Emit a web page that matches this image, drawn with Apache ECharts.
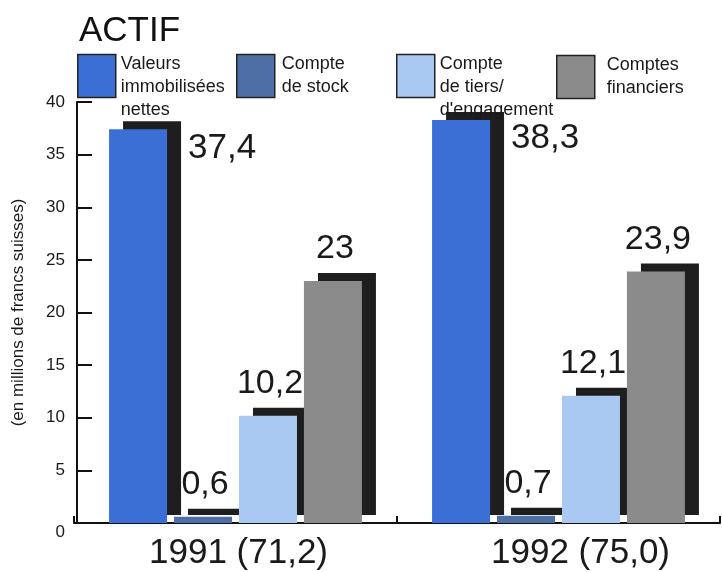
<!DOCTYPE html>
<html>
<head>
<meta charset="utf-8">
<title>ACTIF</title>
<script src="https://cdn.jsdelivr.net/npm/echarts@6/dist/echarts.min.js"></script>
<style>
  html, body { margin: 0; padding: 0; background: #ffffff; }
  #chart { width: 722px; height: 572px; }
</style>
</head>
<body>
<div id="chart"></div>
<script>
// Balance sheet assets, in millions of Swiss francs
const categories = ['1991 (71,2)', '1992 (75,0)'];
const seriesNames = [
  'Valeurs immobilisées nettes',
  'Compte de stock',
  "Compte de tiers/d'engagement",
  'Comptes financiers'
];
// legend text, one entry per series; a leading blank line drops three-line labels below the swatch top
const legendLabels = [
  '\nValeurs\nimmobilisées\nnettes',
  'Compte\nde stock',
  "\nCompte\nde tiers/\nd'engagement",
  'Comptes\nfinanciers'
];
const valeursImmobilisees = [37.4, 38.3];
const compteStock = [0.6, 0.7];
const compteTiers = [10.2, 12.1];
const comptesFinanciers = [23, 23.9];
const yTicks = [0, 5, 10, 15, 20, 25, 30, 35, 40];

const seriesValues = [valeursImmobilisees, compteStock, compteTiers, comptesFinanciers];
const colors = ['#3b6fd6', '#4e6fa6', '#a9c9f3', '#8b8b8b'];
const legendLeft = [77, 236, 396, 556];
const legendTop = [30, 53, 30, 54];
const legendTextPad = [[0, 0, 0, 0], [0, 0, 0, 2], [0, 0, 0, 0], [0, 0, 0, 7]];

const FONT = '"Liberation Sans", Arial, Helvetica, sans-serif';
const fmt = v => String(v).replace('.', ',');

const chart = echarts.init(document.getElementById('chart'), null, { renderer: 'canvas', devicePixelRatio: 1 });

const series = seriesValues.map((vals, i) => ({
  name: seriesNames[i],
  type: 'bar',
  barWidth: 58,
  barGap: '12%',
  data: vals,
  itemStyle: {
    color: colors[i],
    borderWidth: 0,
    shadowColor: '#1e1e1e',
    shadowBlur: 0,
    shadowOffsetX: 14,
    shadowOffsetY: -8
  },
  label: i === 0 ? {
    show: true,
    position: ['100%', 0],
    offset: [21, 1],
    align: 'left',
    verticalAlign: 'top',
    fontSize: 35,
    fontFamily: FONT,
    color: '#1a1a1a',
    formatter: p => fmt(p.value)
  } : {
    show: true,
    position: 'top',
    distance: 15,
    offset: [2, 0],
    fontSize: 34,
    fontFamily: FONT,
    color: '#1a1a1a',
    formatter: p => fmt(p.value)
  },
  emphasis: { disabled: true },
  animation: false
}));

const legends = seriesNames.map((name, i) => ({
  left: legendLeft[i],
  top: legendTop[i],
  padding: 0,
  orient: 'horizontal',
  itemWidth: 38,
  itemHeight: 43,
  selectedMode: false,
  icon: 'rect',
  data: [name],
  formatter: () => legendLabels[i],
  itemStyle: { borderColor: '#222', borderWidth: 1.5 },
  textStyle: {
    fontSize: 18,
    lineHeight: 23,
    fontFamily: FONT,
    color: '#1a1a1a',
    padding: legendTextPad[i]
  }
}));

chart.setOption({
  backgroundColor: '#ffffff',
  animation: false,
  title: {
    text: 'ACTIF',
    left: 74,
    top: 9,
    textStyle: { fontSize: 35, fontWeight: 'normal', fontFamily: FONT, color: '#111' }
  },
  legend: legends,
  grid: { left: 74, right: 2, top: 102, bottom: 49, containLabel: false },
  xAxis: {
    type: 'category',
    data: categories.map((c, i) => ({
      value: c,
      textStyle: { padding: i === 0 ? [0, 0, 0, 6] : [0, 0, 0, 44] }
    })),
    axisLine: { lineStyle: { color: '#111', width: 2 } },
    axisTick: { show: true, inside: true, length: 7, lineStyle: { color: '#111', width: 2 } },
    axisLabel: { fontSize: 35, fontFamily: FONT, color: '#1a1a1a', margin: 13 },
    splitLine: { show: false }
  },
  yAxis: {
    type: 'value',
    min: yTicks[0],
    max: yTicks[yTicks.length - 1],
    interval: yTicks[1] - yTicks[0],
    offset: -3,
    name: '(en millions de francs suisses)',
    nameLocation: 'middle',
    nameRotate: 90,
    nameGap: 50,
    nameTextStyle: { fontSize: 17, fontFamily: FONT, color: '#1a1a1a' },
    axisLine: { show: true, lineStyle: { color: '#111', width: 2 } },
    axisTick: { show: true, inside: true, length: 15, lineStyle: { color: '#111', width: 2 } },
    axisLabel: {
      fontSize: 17,
      fontFamily: FONT,
      color: '#1a1a1a',
      margin: 12,
      formatter: v => (v === 0 ? '{z|0}' : String(v)),
      rich: { z: { fontSize: 17, fontFamily: FONT, color: '#1a1a1a', padding: [18, 0, 0, 0] } }
    },
    splitLine: { show: false }
  },
  series: series
});
</script>
</body>
</html>
